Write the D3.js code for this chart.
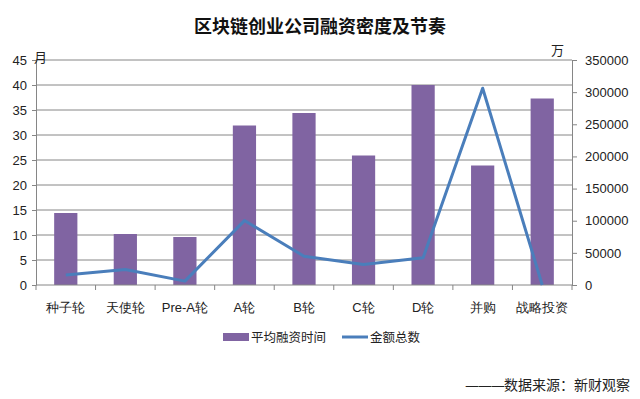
<!DOCTYPE html>
<html>
<head>
<meta charset="utf-8">
<script src="https://cdn.jsdelivr.net/npm/d3@7/dist/d3.min.js"></script>
<style>
  body { margin: 0; background: #fff; }
  svg { display: block; font-family: "Noto Sans CJK SC", "Microsoft YaHei", sans-serif; }
  .axis path, .axis line { stroke: #868686; }
  .axis text { fill: #222; font-size: 13px; }
</style>
</head>
<body>
<div id="chart"></div>
<script>
// rounds
var categories = ["种子轮", "天使轮", "Pre-A轮", "A轮", "B轮", "C轮", "D轮", "并购", "战略投资"];
// months, left axis
var avgTime = [14.4, 10.2, 9.6, 31.9, 34.4, 25.9, 40.0, 23.9, 37.3];
// 万, right axis
var totalAmount = [15400, 24200, 6000, 100200, 44800, 32000, 42300, 306000, 0];
var leftTicks = [0, 5, 10, 15, 20, 25, 30, 35, 40, 45];
var rightTicks = [0, 50000, 100000, 150000, 200000, 250000, 300000, 350000];

var W = 640, H = 399;
var margin = {top: 60, right: 68, bottom: 114, left: 36},
    width = W - margin.left - margin.right,
    height = H - margin.top - margin.bottom;

var svg = d3.select("#chart").append("svg")
    .attr("width", W)
    .attr("height", H);

svg.append("text")
    .attr("x", 320).attr("y", 33)
    .attr("text-anchor", "middle")
    .attr("font-size", "18px")
    .attr("font-weight", "bold")
    .attr("fill", "#111")
    .text("区块链创业公司融资密度及节奏");

var g = svg.append("g").attr("transform", "translate(" + margin.left + "," + margin.top + ")");

var x = d3.scaleBand().domain(categories).range([0, width]);
var yL = d3.scaleLinear().domain([0, 45]).range([height, 0]);
var yR = d3.scaleLinear().domain([0, 350000]).range([height, 0]);

// gridlines
g.append("g").selectAll("line")
  .data(leftTicks.slice(1))
  .join("line")
    .attr("x1", 0).attr("x2", width)
    .attr("y1", d => yL(d)).attr("y2", d => yL(d))
    .attr("stroke", "#868686");

// bars
var bw = x.bandwidth() * 0.39;
g.append("g").selectAll("rect")
  .data(avgTime)
  .join("rect")
    .attr("x", (d, i) => x(categories[i]) + x.bandwidth() / 2 - bw / 2)
    .attr("width", bw)
    .attr("y", d => yL(d))
    .attr("height", d => height - yL(d))
    .attr("fill", "#8064A2");

// axes
var xAxis = g.append("g").attr("class", "axis")
    .attr("transform", "translate(0," + height + ")")
    .call(d3.axisBottom(x).tickSize(0).tickPadding(18));
xAxis.select(".domain").remove();
xAxis.append("line").attr("x1", 0).attr("x2", width).attr("stroke", "#868686");
xAxis.selectAll(".sep")
  .data(d3.range(categories.length + 1))
  .join("line")
    .attr("class", "sep")
    .attr("x1", i => i * x.step()).attr("x2", i => i * x.step())
    .attr("y1", 0).attr("y2", 5)
    .attr("stroke", "#868686");

g.append("g").attr("class", "axis")
    .call(d3.axisLeft(yL).tickValues(leftTicks).tickSize(4).tickSizeOuter(0).tickPadding(5))
    .selectAll("text").attr("font-size", "13px");

g.append("g").attr("class", "axis")
    .attr("transform", "translate(" + width + ",0)")
    .call(d3.axisRight(yR).tickValues(rightTicks).tickSize(5).tickSizeOuter(0).tickPadding(8).tickFormat(d3.format("d")));

// unit labels
svg.append("text").attr("x", 34).attr("y", 62).attr("font-size", "13px").attr("fill", "#222").text("月");
svg.append("text").attr("x", 551).attr("y", 55).attr("font-size", "13px").attr("fill", "#222").text("万");

// line
var line = d3.line()
    .x((d, i) => x(categories[i]) + x.bandwidth() / 2)
    .y(d => yR(d));
g.append("path")
    .datum(totalAmount)
    .attr("d", line)
    .attr("fill", "none")
    .attr("stroke", "#4A7EBB")
    .attr("stroke-width", 3)
    .attr("stroke-linejoin", "round");

// legend
var leg = svg.append("g").attr("font-size", "12.5px").attr("fill", "#222");
leg.append("rect").attr("x", 223).attr("y", 333).attr("width", 26).attr("height", 8).attr("fill", "#8064A2");
leg.append("text").attr("x", 251).attr("y", 342).text("平均融资时间");
leg.append("line").attr("x1", 342).attr("x2", 368).attr("y1", 337).attr("y2", 337)
    .attr("stroke", "#4A7EBB").attr("stroke-width", 3);
leg.append("text").attr("x", 370).attr("y", 342).text("金额总数");

// source note
var src = svg.append("text")
    .attr("x", 630).attr("y", 390)
    .attr("text-anchor", "end")
    .attr("font-size", "14px")
    .attr("fill", "#222");
src.append("tspan").attr("font-family", "DejaVu Sans").attr("letter-spacing", "-1px").text("———");
src.append("tspan").text("数据来源：新财观察");
</script>
</body>
</html>
